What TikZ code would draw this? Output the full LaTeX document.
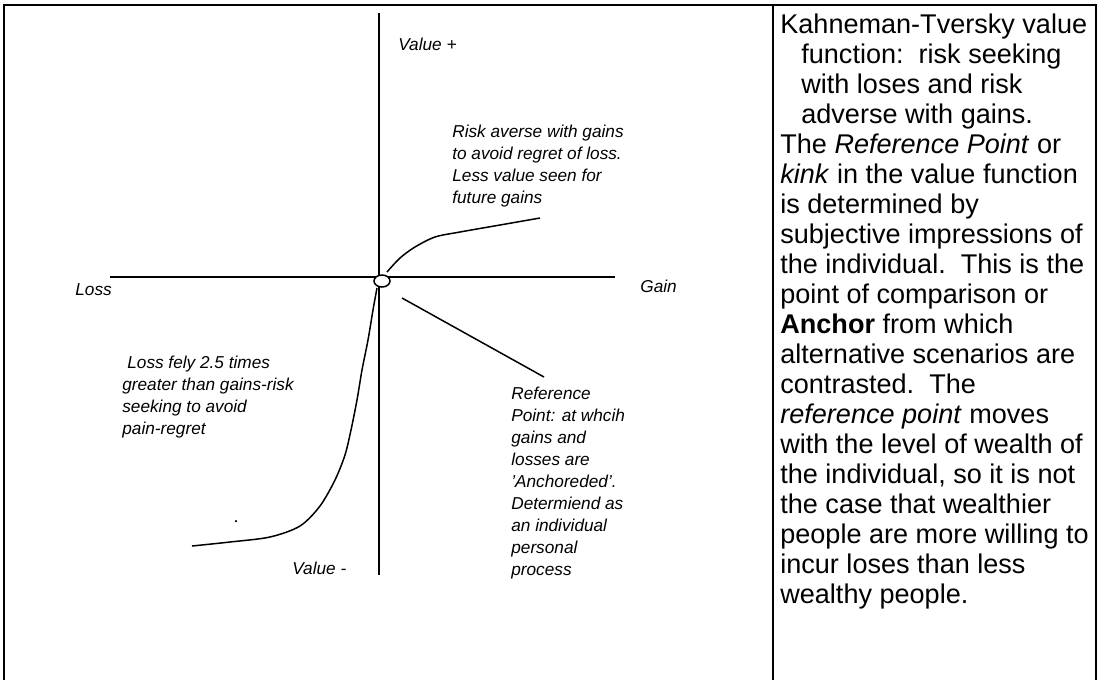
\documentclass[tikz,border=0pt]{standalone}
\usepackage{fontspec}
\setmainfont{Liberation Sans}
\usetikzlibrary{shapes.geometric}

\tikzset{
	axisline/.style={line width=0.4mm},
	valcurve/.style={line width=0.3mm},
	lbl/.style={font=\fontsize{9.8}{12.5}\selectfont\itshape, inner sep=0pt, anchor=base west, align=left},
	bodytext/.style={font=\fontsize{15.4}{17.07}\selectfont, inner sep=0pt, anchor=base west, align=left}
}

\begin{document}
\begin{tikzpicture}[x=0.2mm, y=-0.2mm]
	\useasboundingbox (0,0) rectangle (1099,680);

	% Table frame
	\draw[line width=0.45mm] (4,680) -- (4,5) -- (1096,5) -- (1096,680);
	\draw[line width=0.45mm] (773,5) -- (773,680);

	% Axes
	\coordinate (ytop) at (379,13);
	\coordinate (ybot) at (379,575);
	\coordinate (xleft) at (110,277);
	\coordinate (xright) at (615,277);
	\draw[axisline] (ytop) -- (ybot);
	\draw[axisline] (xleft) -- (xright);

	% Reference point
	\node[draw, ellipse, fill=white, minimum width=3.2mm, minimum height=2.4mm, inner sep=0pt, line width=0.3mm] (refpt) at (382,281) {};

	% Value function
	\draw[valcurve] plot[smooth] coordinates {(387,272) (400,258) (415,247) (435,237) (460,232) (500,225) (540,218)};
	\draw[valcurve] plot[smooth] coordinates {(377,288) (373,310) (368,340) (362,370) (357,400) (351,430) (345,455) (335,480) (320,506) (300,526) (270,537) (230,542) (192,546)};
	\fill (236,521) circle (0.25mm); % stray dot

	% Pointer to the reference point note
	\coordinate (refstart) at (402,298);
	\coordinate (refend) at (544,377);
	\draw[valcurve] (refstart) -- (refend);

	% Axis labels
	\node[lbl] (valplus) at (398,50) {Value +};
	\node[lbl] (valminus) at (292,574) {Value -};
	\node[lbl] (loss) at (75,295) {Loss};
	\node[lbl] (gain) at (640,292) {Gain};

	% Notes on the plot (anchored at the last line)
	\node[lbl] (averse) at (452,203) {Risk averse with gains\\to avoid regret of loss.\\Less value seen for\\future gains};
	\node[lbl] (seeking) at (122,434) {\hspace*{1mm}Loss fely 2.5 times\\greater than gains-risk\\seeking to avoid\\pain-regret};
	\node[lbl] (refnote) at (511,575) {Reference\\Point: at whcih\\gains and\\losses are\\'Anchoreded'.\\Determiend as\\an individual\\personal\\process};

	% Text column
	\node[bodytext] (kt) at (780,603) {Kahneman-Tversky value\\
		\hspace*{4.2mm}function:\ \ risk seeking\\
		\hspace*{4.2mm}with loses and risk\\
		\hspace*{4.2mm}adverse with gains.\\
		The \textit{Reference Point} or\\
		\textit{kink} in the value function\\
		is determined by\\
		subjective impressions of\\
		the individual.\ \ This is the\\
		point of comparison or\\
		\textbf{Anchor} from which\\
		alternative scenarios are\\
		contrasted.\ \ The\\
		\textit{reference point} moves\\
		with the level of wealth of\\
		the individual, so it is not\\
		the case that wealthier\\
		people are more willing to\\
		incur loses than less\\
		wealthy people.};

\end{tikzpicture}
\end{document}
